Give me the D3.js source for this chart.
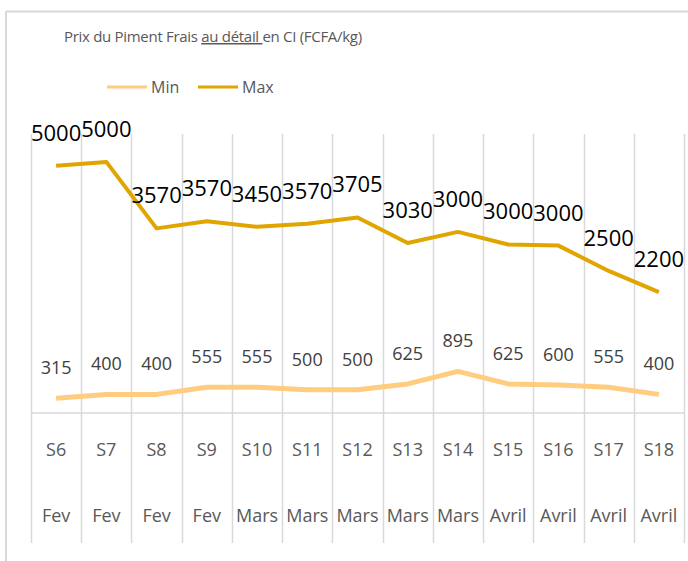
<!DOCTYPE html>
<html>
<head>
<meta charset="utf-8">
<script src="https://cdn.jsdelivr.net/npm/d3@7"></script>
<style>
  body { margin: 0; background: #fff; }
  svg { display: block; font-family: "Open Sans", sans-serif; }
</style>
</head>
<body>
<svg id="chart" width="688" height="561"></svg>
<script>
// weekly retail prices, stacked line chart (Min, then Max on top)
const weeks = ["S6", "S7", "S8", "S9", "S10", "S11", "S12", "S13", "S14", "S15", "S16", "S17", "S18"];
const months = ["Fev", "Fev", "Fev", "Fev", "Mars", "Mars", "Mars", "Mars", "Mars", "Avril", "Avril", "Avril", "Avril"];
const minVals = [315, 400, 400, 555, 555, 500, 500, 625, 895, 625, 600, 555, 400];
const maxVals = [5000, 5000, 3570, 3570, 3450, 3570, 3705, 3030, 3000, 3000, 3000, 2500, 2200];
const seriesNames = ["Min", "Max"];
const colors = { Min: "#FFCC80", Max: "#E0A500" };

const svg = d3.select("#chart");

const rows = weeks.map((w, i) => ({ week: w, Min: minVals[i], Max: maxVals[i] }));
const stacked = d3.stack().keys(seriesNames)(rows);

const x = d3.scaleBand().domain(weeks).range([31, 684]);
const y = d3.scaleLinear().domain([0, 6000]).range([413, 134]);
const cx = (w) => x(w) + x.bandwidth() / 2;

// outer frame (top + left edges visible)
svg.append("line").attr("x1", 6).attr("x2", 688).attr("y1", 11.5).attr("y2", 11.5)
  .attr("stroke", "#d9d9d9").attr("stroke-width", 2);
svg.append("line").attr("x1", 6).attr("x2", 6).attr("y1", 11).attr("y2", 561)
  .attr("stroke", "#d9d9d9").attr("stroke-width", 2);

// vertical gridlines at category boundaries
const bounds = weeks.map((w) => x(w)).concat([x.range()[1]]);
svg.append("g").selectAll("line").data(bounds).enter().append("line")
  .attr("x1", (d) => Math.round(d) + 0.5).attr("x2", (d) => Math.round(d) + 0.5)
  .attr("y1", y.range()[1]).attr("y2", 543)
  .attr("stroke", "#d9d9d9").attr("stroke-width", 1.5);

// category axis line
svg.append("line").attr("x1", 31).attr("x2", 684).attr("y1", 413).attr("y2", 413)
  .attr("stroke", "#d9d9d9").attr("stroke-width", 1.5);

// two-level category labels
const labels = svg.append("g").attr("fill", "#595959").attr("font-size", 18).attr("text-anchor", "middle");
labels.selectAll("text.wk").data(weeks).enter().append("text").attr("class", "wk")
  .attr("x", (d) => cx(d)).attr("y", 456).text((d) => d);
labels.selectAll("text.mo").data(months).enter().append("text").attr("class", "mo")
  .attr("x", (d, i) => cx(weeks[i])).attr("y", 522).text((d) => d);

// lines
const line = d3.line().x((d) => cx(d.data.week)).y((d) => y(d[1]));
svg.append("g").selectAll("path").data(stacked).enter().append("path")
  .attr("d", (s) => line(s))
  .attr("fill", "none")
  .attr("stroke", (s) => colors[s.key])
  .attr("stroke-width", (s) => (s.key === "Min" ? 5 : 4))
  .attr("stroke-linejoin", "round");

// data labels (show the raw values, not the stacked totals)
svg.append("g").selectAll("text").data(stacked[0]).enter().append("text")
  .attr("x", (d) => cx(d.data.week)).attr("y", (d) => y(d[1]) - 24)
  .attr("text-anchor", "middle").attr("font-size", 18).attr("fill", "#404040")
  .text((d) => d.data.Min);
svg.append("g").selectAll("text").data(stacked[1]).enter().append("text")
  .attr("x", (d) => cx(d.data.week)).attr("y", (d) => y(d[1]) - 25)
  .attr("text-anchor", "middle").attr("font-size", 22).attr("fill", "#000")
  .text((d) => d.data.Max);

// title
const title = svg.append("text").attr("x", 64).attr("y", 42)
  .attr("font-size", 15).attr("letter-spacing", -0.3).attr("fill", "#595959");
title.append("tspan").text("Prix du Piment Frais ");
title.append("tspan").attr("text-decoration", "underline").text("au détail ");
title.append("tspan").text("en CI (FCFA/kg)");

// legend
const legend = svg.append("g");
const legendX = [107, 198];
seriesNames.forEach((name, i) => {
  legend.append("line").attr("x1", legendX[i]).attr("x2", legendX[i] + 40)
    .attr("y1", 87).attr("y2", 87).attr("stroke", colors[name]).attr("stroke-width", 3);
  legend.append("text").attr("x", legendX[i] + 44).attr("y", 93)
    .attr("font-size", 16).attr("fill", "#595959").text(name);
});
</script>
</body>
</html>
